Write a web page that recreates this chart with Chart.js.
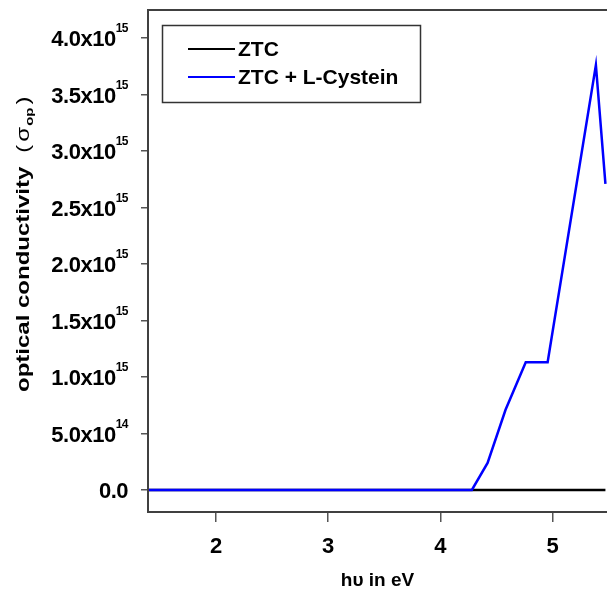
<!DOCTYPE html>
<html>
<head>
<meta charset="utf-8">
<script src="https://cdn.jsdelivr.net/npm/chart.js@4.4.1/dist/chart.umd.min.js"></script>
<style>
  html, body { margin: 0; padding: 0; background: #fff; overflow: hidden; }
  canvas { display: block; }
</style>
</head>
<body>
<canvas id="sigmaChart" width="607" height="592"></canvas>
<script>
/* ================= DATA ================= */
const photonEnergy = [1.35, 4.28, 4.42, 4.58, 4.76, 4.955, 5.385, 5.47];
const sigmaZTC = [0, 0, 0, 0, 0, 0, 0, 0];
const sigmaZTCCys = [0, 0, 0.24e15, 0.71e15, 1.13e15, 1.13e15, 3.76e15, 2.71e15];
const seriesLabels = ["ZTC", "ZTC + L-Cystein"];
const seriesColors = ["#000000", "#0000ff"];

const xTicks = [2, 3, 4, 5];
const yTicks = [0, 0.5e15, 1.0e15, 1.5e15, 2.0e15, 2.5e15, 3.0e15, 3.5e15, 4.0e15];
const yTickBase = ["0.0", "5.0x10", "1.0x10", "1.5x10", "2.0x10", "2.5x10", "3.0x10", "3.5x10", "4.0x10"];
const yTickExp = ["", "14", "15", "15", "15", "15", "15", "15", "15"];

const xTitle = "h\u03c5 in eV";
const yTitle = "optical conductivity";
const yTitleSymbol = "\u03c3";
const yTitleSub = "op";

const FONT = "'Liberation Sans', Arial, sans-serif";

/* ================= PLUGINS ================= */
const framePlugin = {
  id: "frame",
  afterDraw(chart) {
    const { ctx, chartArea: a } = chart;
    ctx.save();
    ctx.strokeStyle = "#404040";
    ctx.lineWidth = 2;
    ctx.beginPath();
    ctx.moveTo(a.right + 2, a.top);
    ctx.lineTo(a.left, a.top);
    ctx.lineTo(a.left, a.bottom);
    ctx.lineTo(a.right + 2, a.bottom);
    ctx.stroke();
    ctx.restore();
  }
};

const yLabelsPlugin = {
  id: "yLabels",
  afterDraw(chart) {
    const { ctx } = chart;
    const scale = chart.scales.y;
    const right = 128;
    ctx.save();
    ctx.fillStyle = "#000";
    ctx.textAlign = "right";
    ctx.textBaseline = "alphabetic";
    yTicks.forEach((v, i) => {
      const y = scale.getPixelForValue(v);
      let expW = 0;
      if (yTickExp[i]) {
        ctx.font = "bold 12px " + FONT;
        ctx.letterSpacing = "-0.5px";
        ctx.fillText(yTickExp[i], right, y - 6);
        expW = ctx.measureText(yTickExp[i]).width;
      }
      ctx.font = "bold 22px " + FONT;
      ctx.letterSpacing = "-0.5px";
      ctx.fillText(yTickBase[i], right - expW, y + 8);
    });

    // axis title, rotated
    ctx.translate(29, 392);
    ctx.rotate(-Math.PI / 2);
    ctx.scale(1, 0.75);
    ctx.textAlign = "left";
    ctx.letterSpacing = "0px";
    let x = 0;
    ctx.font = "bold 24px " + FONT;
    ctx.fillText(yTitle, x, 0);
    x += ctx.measureText(yTitle).width + 14;
    ctx.font = "24px " + FONT;
    ctx.fillText("(", x, 0);
    x += ctx.measureText("(").width + 3;
    ctx.fillText(yTitleSymbol, x, 0);
    x += ctx.measureText(yTitleSymbol).width + 1;
    ctx.font = "bold 15px " + FONT;
    ctx.fillText(yTitleSub, x, 5);
    x += ctx.measureText(yTitleSub).width + 3;
    ctx.font = "24px " + FONT;
    ctx.fillText(")", x, 0);
    ctx.restore();
  }
};

const legendBoxPlugin = {
  id: "legendBox",
  afterDraw(chart) {
    const { ctx } = chart;
    ctx.save();
    ctx.strokeStyle = "#333";
    ctx.lineWidth = 1.5;
    ctx.strokeRect(162.5, 25.5, 258, 77);
    ctx.font = "bold 21px " + FONT;
    ctx.textBaseline = "middle";
    ctx.textAlign = "left";
    ctx.fillStyle = "#000";
    chart.data.datasets.forEach((ds, i) => {
      const y = 49 + i * 28;
      ctx.strokeStyle = ds.borderColor;
      ctx.lineWidth = 2;
      ctx.beginPath();
      ctx.moveTo(188, y);
      ctx.lineTo(235, y);
      ctx.stroke();
      ctx.fillText(ds.label, 238, y + 1);
    });
    ctx.restore();
  }
};

/* ================= CHART ================= */
const toPoints = ys => photonEnergy.map((x, i) => ({ x: x, y: ys[i] }));

new Chart(document.getElementById("sigmaChart"), {
  type: "line",
  data: {
    datasets: [
      {
        label: seriesLabels[0],
        data: toPoints(sigmaZTC),
        borderColor: seriesColors[0],
        borderWidth: 2.5,
        order: 1
      },
      {
        label: seriesLabels[1],
        data: toPoints(sigmaZTCCys),
        borderColor: seriesColors[1],
        borderWidth: 2.5,
        order: 0
      }
    ]
  },
  options: {
    responsive: false,
    animation: false,
    layout: { padding: { top: 10, right: 0, bottom: 0, left: 0 } },
    elements: { point: { radius: 0 }, line: { tension: 0 } },
    plugins: {
      legend: { display: false },
      tooltip: { enabled: false }
    },
    scales: {
      x: {
        type: "linear",
        min: 1.394,
        max: 5.484,
        afterBuildTicks: s => { s.ticks = xTicks.map(v => ({ value: v })); },
        afterFit: s => { s.height = 80; },
        border: { display: false },
        grid: { drawOnChartArea: false, tickLength: 10, color: "#555", lineWidth: 1.5 },
        ticks: {
          color: "#000",
          font: { family: FONT, size: 22, weight: "bold" },
          padding: 12,
          maxRotation: 0
        },
        title: {
          display: true,
          text: xTitle,
          color: "#000",
          font: { family: FONT, size: 19, weight: "bold" },
          padding: { top: 0, bottom: 0 }
        }
      },
      y: {
        type: "linear",
        min: -0.1947e15,
        max: 4.248e15,
        afterBuildTicks: s => { s.ticks = yTicks.map(v => ({ value: v })); },
        afterFit: s => { s.width = 148; },
        border: { display: false },
        grid: { drawOnChartArea: false, tickLength: 7, color: "#555", lineWidth: 1.5 },
        ticks: { display: false }
      }
    }
  },
  plugins: [framePlugin, yLabelsPlugin, legendBoxPlugin]
});
</script>
</body>
</html>
